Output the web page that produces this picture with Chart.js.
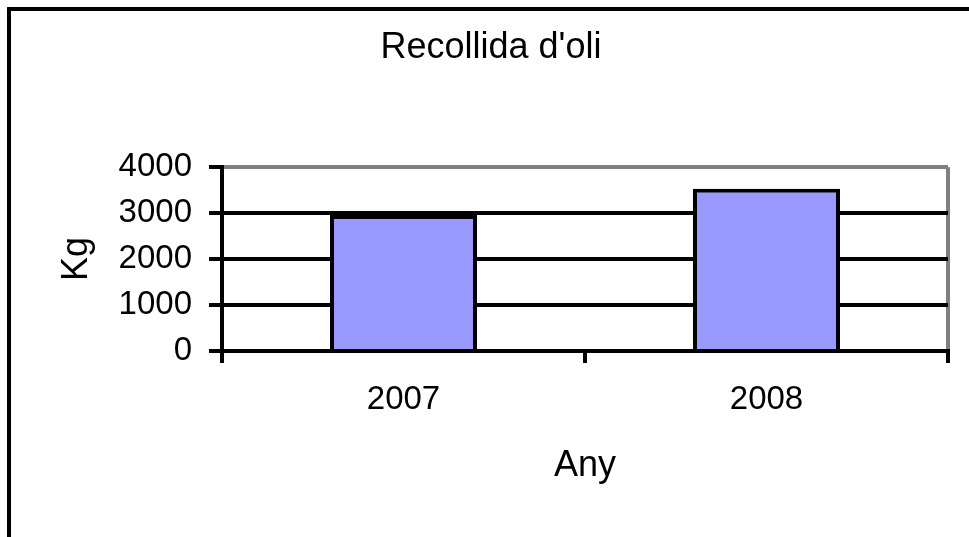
<!DOCTYPE html>
<html>
<head>
<meta charset="utf-8">
<script src="https://cdn.jsdelivr.net/npm/chart.js@4/dist/chart.umd.min.js"></script>
<style>
  html, body { margin: 0; padding: 0; background: #fff; }
  canvas { display: block; }
</style>
</head>
<body>
<canvas id="chart" width="969" height="537"></canvas>
<script>
// data
const years = ['2007', '2008']
const kgValues = [2960, 3530]
const yTicks = [0, 1000, 2000, 3000, 4000]

const fontFamily = '"Liberation Sans", Arial, sans-serif'

// white background plus the outer frame (top and left edges only)
const framePlugin = {
    id: 'frame',
    beforeDraw(chart) {
        const {ctx, width, height} = chart
        ctx.save()
        ctx.fillStyle = '#FFFFFF'
        ctx.fillRect(0, 0, width, height)
        ctx.fillStyle = '#000000'
        ctx.fillRect(7, 7, width - 7, 4)
        ctx.fillRect(7, 7, 4, height - 7)
        ctx.restore()
    }
}

new Chart(document.getElementById('chart'), {
    type: 'bar',
    data: {
        labels: years,
        datasets: [{
            label: 'Kg',
            data: kgValues,
            backgroundColor: '#9999FF',
            borderColor: '#000000',
            borderWidth: 4,
            barPercentage: 0.405,
            categoryPercentage: 1
        }]
    },
    options: {
        responsive: false,
        animation: false,
        devicePixelRatio: 1,
        layout: {
            padding: {left: 34, right: 21, top: 0, bottom: 0}
        },
        plugins: {
            legend: {display: false},
            tooltip: {enabled: false},
            title: {
                display: true,
                text: "Recollida d'oli",
                color: '#000000',
                font: {family: fontFamily, size: 36, weight: 'normal'},
                padding: {top: 26, bottom: 98}
            }
        },
        scales: {
            x: {
                grid: {
                    offset: true,
                    lineWidth: 4,
                    tickLength: 12,
                    tickWidth: 4,
                    tickColor: '#000000',
                    // only the right edge of the plot is drawn, in grey
                    color: (ctx) => ctx.type === 'tick' ? 'rgba(0,0,0,0)' : '#808080'
                },
                border: {display: true, color: '#000000', width: 4},
                ticks: {
                    color: '#000000',
                    padding: 17,
                    font: {family: fontFamily, size: 33}
                },
                title: {
                    display: true,
                    text: 'Any',
                    color: '#000000',
                    font: {family: fontFamily, size: 36},
                    padding: {top: 0, bottom: 49}
                },
                afterFit: (scale) => { scale.height = 186 }
            },
            y: {
                min: 0,
                max: 4000,
                afterBuildTicks: (scale) => {
                    scale.ticks = yTicks.map(v => ({value: v}))
                },
                grid: {
                    lineWidth: 4,
                    tickLength: 13,
                    tickWidth: 4,
                    tickColor: '#000000',
                    color: (ctx) => ctx.tick && ctx.tick.value === 4000 ? '#808080' : '#000000'
                },
                border: {display: true, color: '#000000', width: 4},
                ticks: {
                    color: '#000000',
                    padding: 17,
                    font: {family: fontFamily, size: 33},
                    callback: (value) => String(value)
                },
                title: {
                    display: true,
                    text: 'Kg',
                    color: '#000000',
                    font: {family: fontFamily, size: 36},
                    padding: {top: 21, bottom: 0}
                },
                afterFit: (scale) => { scale.width = 188 }
            }
        }
    },
    plugins: [framePlugin]
})
</script>
</body>
</html>
